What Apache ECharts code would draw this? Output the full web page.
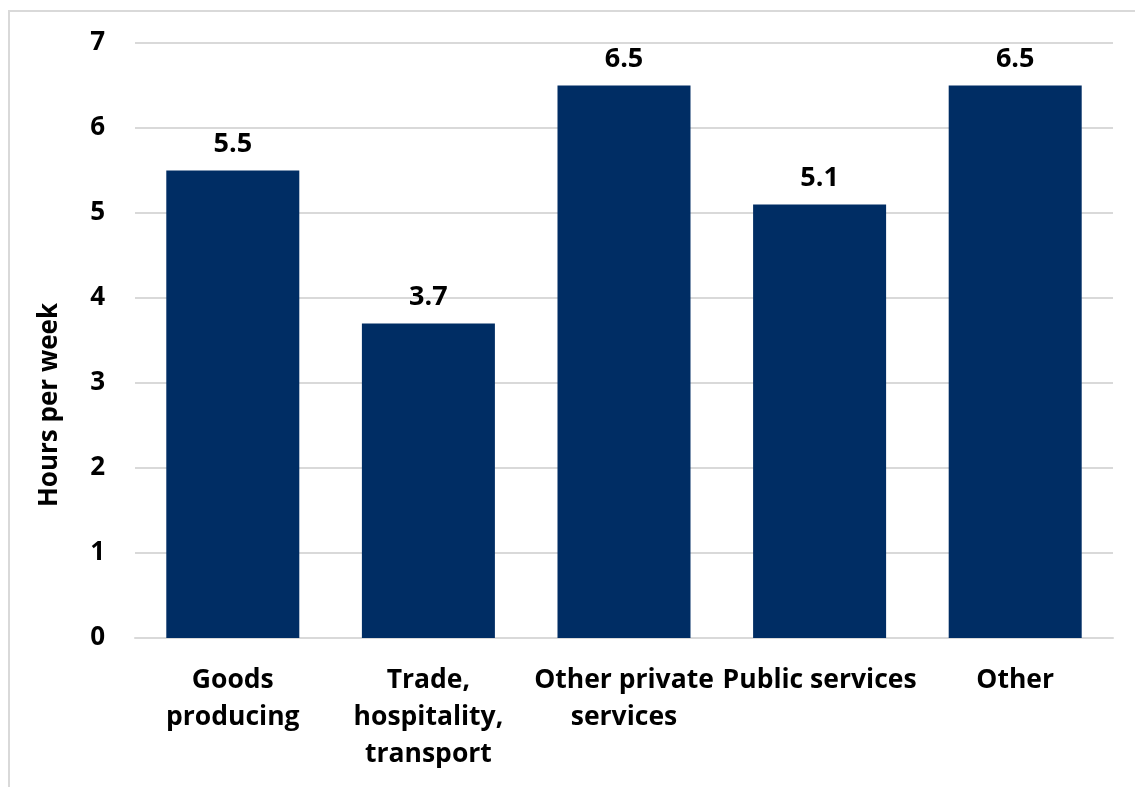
<!DOCTYPE html>
<html>
<head>
<meta charset="utf-8">
<script src="https://cdn.jsdelivr.net/npm/echarts@6/dist/echarts.min.js"></script>
<style>
  html, body { margin: 0; padding: 0; background: #fff; }
  #frame { position: absolute; left: 8px; top: 10px; width: 1200px; height: 900px;
           border-left: 2px solid #d9d9d9; border-top: 2px solid #d9d9d9; box-sizing: border-box; }
  #chart { position: absolute; left: 0; top: 0; width: 1135px; height: 787px; }
</style>
</head>
<body>
<div id="frame"></div>
<div id="chart"></div>
<script>
const categories = ['Goods\nproducing', 'Trade,\nhospitality,\ntransport', 'Other private\nservices', 'Public services', 'Other'];
const hoursPerWeek = [5.5, 3.7, 6.5, 5.1, 6.5];
const yAxisTitle = 'Hours per week';

const FONT = '"Open Sans", sans-serif';
const chart = echarts.init(document.getElementById('chart'), null, { renderer: 'canvas' });
chart.setOption({
  animation: false,
  backgroundColor: 'transparent',
  grid: { left: 135, right: 22, top: 43, bottom: 149, containLabel: false },
  graphic: [{
    type: 'text',
    x: 50, y: 405,
    rotation: Math.PI / 2,
    style: {
      text: yAxisTitle, fill: '#000', font: 'bold 26px "Open Sans", sans-serif',
      textAlign: 'center', textVerticalAlign: 'middle'
    }
  }],
  xAxis: {
    type: 'category',
    data: categories,
    axisLine: { show: true, lineStyle: { color: '#d9d9d9', width: 2 } },
    axisTick: { show: false },
    axisLabel: {
      interval: 0, color: '#000', fontFamily: FONT, fontWeight: 'bold',
      fontSize: 26.5, lineHeight: 37, margin: 24
    }
  },
  yAxis: {
    type: 'value', min: 0, max: 7, interval: 1,
    axisLine: { show: false },
    axisTick: { show: false },
    axisLabel: { color: '#000', fontFamily: FONT, fontWeight: 'bold', fontSize: 26, margin: 30 },
    splitLine: { lineStyle: { color: '#d9d9d9', width: 2 } }
  },
  series: [{
    type: 'bar',
    data: hoursPerWeek,
    barWidth: '68%',
    itemStyle: { color: '#002d64' },
    label: {
      show: true, position: 'top', distance: 13,
      color: '#000', fontFamily: FONT, fontWeight: 'bold', fontSize: 27,
      formatter: p => p.value.toFixed(1)
    }
  }]
});
</script>
</body>
</html>
